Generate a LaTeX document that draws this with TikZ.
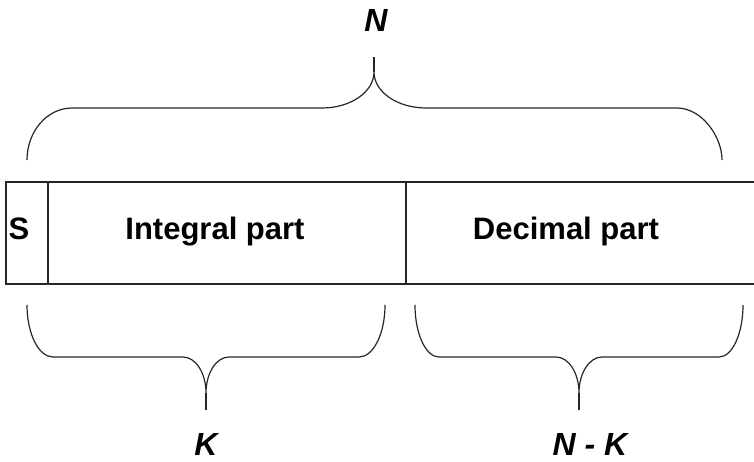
\documentclass[tikz,border=0pt]{standalone}
\usepackage{fontspec}
\setmainfont{Liberation Sans}
\begin{document}
\begin{tikzpicture}[x=1pt,y=1pt,
  boxline/.style={line width=1.5pt,draw=black!85},
  brace/.style={line width=1.2pt,draw=black!85},
  parttext/.style={font=\fontsize{31}{31}\selectfont\bfseries,anchor=base,inner sep=0pt},
  lbl/.style={font=\fontsize{32}{32}\selectfont\bfseries\itshape,anchor=base,inner sep=0pt}]
\useasboundingbox (0,0) rectangle (754,461);
% box
\coordinate (tl) at (6,279);
\coordinate (bl) at (6,177);
\coordinate (tr) at (754,279);
\coordinate (br) at (754,177);
\draw[boxline] (tr) -- (tl) -- (bl) -- (br);
\coordinate (s1) at (48,279); \coordinate (s2) at (48,177);
\coordinate (d1) at (406,279); \coordinate (d2) at (406,177);
\draw[boxline] (s1) -- (s2);
\draw[boxline] (d1) -- (d2);
\node[parttext] (S) at (19,222) {S};
\node[parttext] (int) at (215,222) {Integral part};
\node[parttext] (dec) at (566,222) {Decimal part};
% top brace
\draw[brace] (27,301) .. controls (27,329.7) and (47.2,353) .. (72,353)
  -- (322,353) .. controls (350.7,353) and (374,369.1) .. (374,389)
  .. controls (374,369.1) and (397.3,353) .. (426,353)
  -- (677,353) .. controls (701.8,353) and (722,324.3) .. (722,301);
\draw[brace] (374,389) -- (374,404);
\node[lbl] (N) at (376,429) {N};
% bottom left brace
\draw[brace] (27,156) .. controls (27,127.3) and (38.6,104) .. (53,104)
  -- (183,104) .. controls (195.7,104) and (206,87.9) .. (206,68)
  .. controls (206,87.9) and (216.3,104) .. (229,104)
  -- (359,104) .. controls (373.4,104) and (385,127.3) .. (385,156);
\draw[brace] (206,68) -- (206,51);
\node[lbl] (K) at (206,6) {K};
% bottom right brace
\draw[brace] (415,156) .. controls (415,127.3) and (425.7,104) .. (439,104)
  -- (556,104) .. controls (568.7,104) and (579,87.9) .. (579,68)
  .. controls (579,87.9) and (589.3,104) .. (602,104)
  -- (719,104) .. controls (732.2,104) and (743,127.3) .. (743,156);
\draw[brace] (579,68) -- (579,51);
\node[lbl] (NK) at (590,6) {N - K};
\end{tikzpicture}
\end{document}
